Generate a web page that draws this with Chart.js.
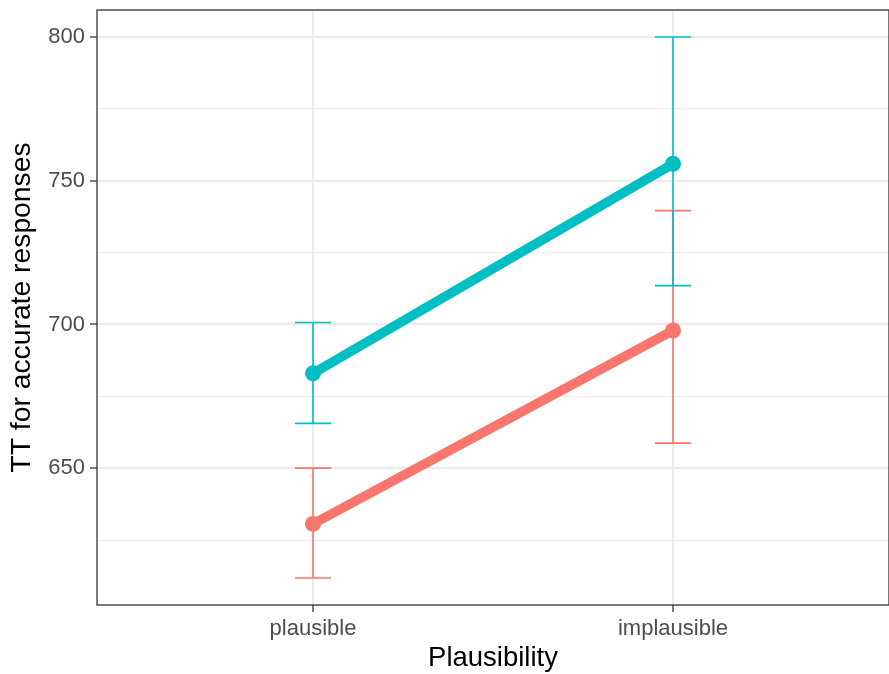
<!DOCTYPE html>
<html>
<head>
<meta charset="utf-8">
<script src="https://cdn.jsdelivr.net/npm/chart.js@4"></script>
<style>
  body{margin:0;background:#fff;}
  canvas{display:block;}
</style>
</head>
<body>
<canvas id="myChart" width="889" height="674"></canvas>
<script>
// categories and values
const categories = ['plausible', 'implausible'];
const redMean  = [630.6, 697.9];
const redUpper = [650.0, 739.6];
const redLower = [611.8, 658.7];
const tealMean  = [683.0, 755.9];
const tealUpper = [700.7, 800.0];
const tealLower = [665.6, 713.5];
const yMajor = [650, 700, 750, 800];
const yMinor = [625, 675, 725, 775];

const RED = '#F8766D', TEAL = '#00BFC4';
const FONT = "'Liberation Sans', Arial, Helvetica, sans-serif";

function pts(arr){ return arr.map((v,i)=>({x:i+1, y:v})); }

const series = [
  {color:RED,  mean:redMean,  up:redUpper,  lo:redLower},
  {color:TEAL, mean:tealMean, up:tealUpper, lo:tealLower}
];

// error bars, drawn through the chart scales
const errorBars = {
  id:'errorBars',
  beforeDatasetsDraw(chart){
    const c = chart.ctx, xs = chart.scales.x, ys = chart.scales.y;
    const half = xs.getPixelForValue(1.05) - xs.getPixelForValue(1);
    c.save();
    c.lineWidth = 1.6;
    series.forEach(s=>{
      c.strokeStyle = s.color;
      s.mean.forEach((m,i)=>{
        const x = xs.getPixelForValue(i+1);
        const yt = ys.getPixelForValue(s.up[i]);
        const yb = ys.getPixelForValue(s.lo[i]);
        c.beginPath();
        c.moveTo(x, yt); c.lineTo(x, yb);
        c.moveTo(x-half, yt); c.lineTo(x+half, yt);
        c.moveTo(x-half, yb); c.lineTo(x+half, yb);
        c.stroke();
      });
    });
    c.restore();
  }
};

const panelBorder = {
  id:'panelBorder',
  afterDraw(chart){
    const a = chart.chartArea, c = chart.ctx;
    c.save();
    c.strokeStyle = '#333333';
    c.lineWidth = 1.3;
    c.strokeRect(a.left, a.top, a.right - a.left, a.bottom - a.top);
    c.restore();
  }
};

const ctx = document.getElementById('myChart').getContext('2d');
let myChart = new Chart(ctx, {
  type:'line',
  data:{
    datasets:[
      {data:pts(redMean), borderColor:RED, backgroundColor:RED, borderWidth:9.5,
       pointRadius:8, pointBorderWidth:0, pointBackgroundColor:RED},
      {data:pts(tealMean), borderColor:TEAL, backgroundColor:TEAL, borderWidth:9.5,
       pointRadius:8, pointBorderWidth:0, pointBackgroundColor:TEAL}
    ]
  },
  plugins:[errorBars, panelBorder],
  options:{
    responsive:false,
    animation:false,
    devicePixelRatio:1,
    layout:{autoPadding:false, padding:{top:10, right:0, left:0, bottom:0}},
    plugins:{legend:{display:false}, tooltip:{enabled:false}},
    scales:{
      x:{
        type:'linear', min:0.4, max:2.6,
        afterBuildTicks(s){ s.ticks = categories.map((c,i)=>({value:i+1})); },
        afterFit(s){ s.height = 69; s.paddingLeft = 0; s.paddingRight = 0; },
        ticks:{
          callback:(v)=>categories[v-1],
          color:'#4d4d4d', font:{family:FONT, size:22}, padding:4, maxRotation:0
        },
        grid:{color:'#ebebeb', lineWidth:2, tickColor:'#333333', tickLength:7, tickWidth:1.3},
        border:{display:false},
        title:{display:true, text:'Plausibility', color:'#000', font:{family:FONT, size:27.5},
               padding:{top:0, bottom:-1}}
      },
      y:{
        type:'linear', min:602.39, max:809.41,
        afterBuildTicks(s){
          s.ticks = yMajor.concat(yMinor).sort((a,b)=>a-b).map(v=>({value:v}));
        },
        afterFit(s){ s.width = 97; s.paddingTop = 0; s.paddingBottom = 0; },
        ticks:{
          callback:(v)=> yMajor.includes(v) ? String(v) : '',
          color:'#4d4d4d', font:{family:FONT, size:22}, padding:5
        },
        grid:{
          color:'#ebebeb',
          lineWidth:(c)=> yMajor.includes(c.tick.value) ? 2 : 1,
          tickColor:(c)=> yMajor.includes(c.tick.value) ? '#333333' : 'rgba(0,0,0,0)',
          tickLength:7, tickWidth:1.3
        },
        border:{display:false},
        title:{display:true, text:'TT for accurate responses', color:'#000',
               font:{family:FONT, size:28.3}, padding:{top:5, bottom:0}}
      }
    }
  }
});
</script>
</body>
</html>
